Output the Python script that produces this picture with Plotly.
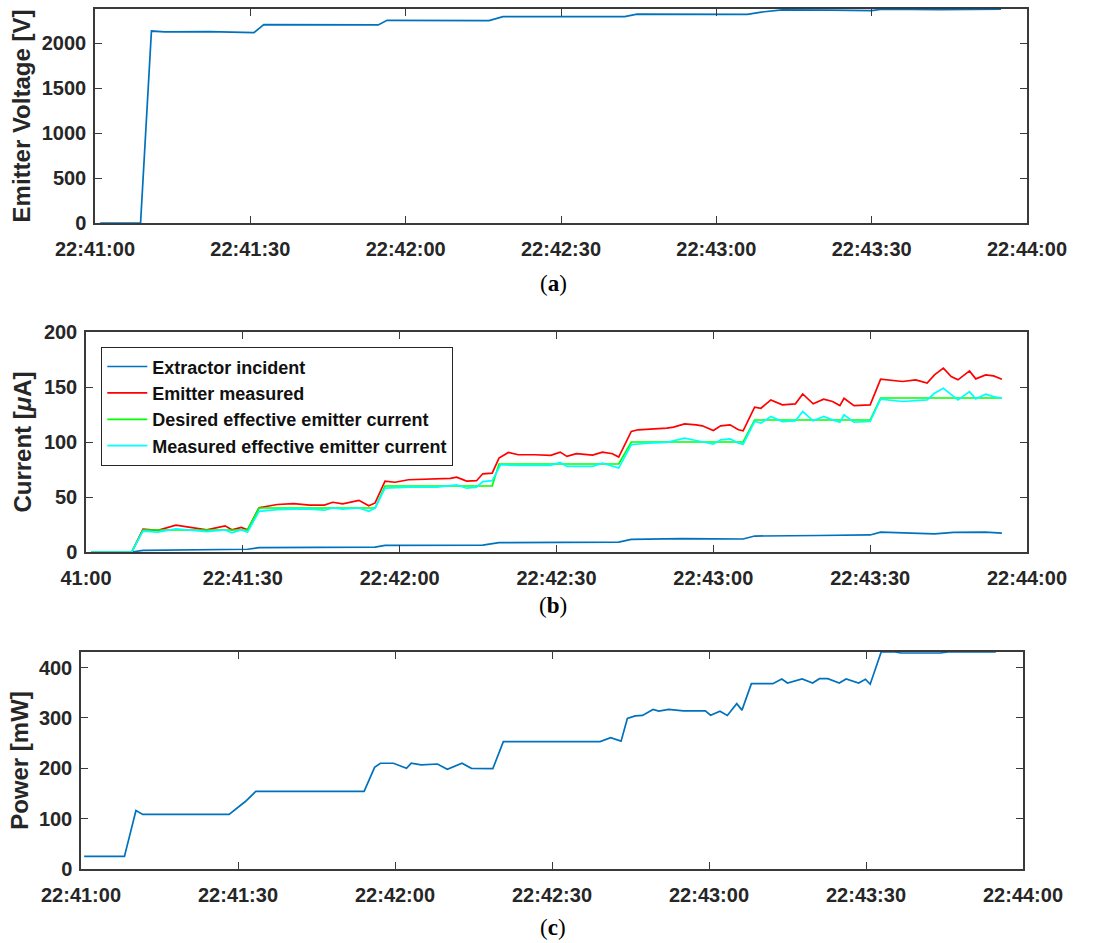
import pandas as pd
import plotly.graph_objects as go

BASE = pd.Timestamp("2000-01-01 22:41:00")

# ---------- data (seconds after 22:41:00) ----------
volt_t = [1, 8.8, 10.9, 13.5, 22, 30.7, 32.6, 45, 54.7, 56.4, 66, 76.1, 78.8, 92, 102.3,
          104.7, 115, 126, 128.7, 132.7, 142, 150, 152, 163, 175]
volt_v = [0, 0, 2135, 2125, 2128, 2118, 2207, 2205, 2203, 2254, 2252, 2250, 2295, 2297, 2295,
          2322, 2322, 2320, 2346, 2370, 2368, 2362, 2378, 2372, 2378]

emit_t = [1, 8.75, 10.9, 13.75, 17.2, 19.7, 23.1, 26.6, 27.9, 29.7, 30.9, 33.1, 36.6, 39.7, 42.8,
          45.6, 47.2, 49.1, 52.2, 54.1, 55.3, 57.2, 59.1, 61.7, 67.2, 69.7, 70.9, 72.8, 74.7, 75.9,
          77.7, 79.0, 80.8, 82.7, 85.8, 88.9, 90.7, 92.0, 93.8, 96.9, 98.8, 100.7, 101.9, 104.3,
          105.6, 108.7, 111.1, 112.4, 114.5, 116.7, 117.9, 120.0, 121.4, 123.2, 124.8, 125.7,
          127.9, 129.1, 131.0, 133.2, 135.7, 137.1, 139.1, 141.1, 142.8, 144.2, 145.0, 146.9,
          150.0, 152.0, 153.7, 156.2, 158.7, 160.9, 162.3, 164.0, 165.5, 166.8, 169.0, 170.2,
          172.1, 173.6, 175.2]
emit_v = [0, 0, 20.8, 19.6, 24.4, 22.6, 20.2, 23.8, 20.2, 22.3, 20.2, 40.2, 43.2, 44, 42.6,
          42.6, 45.2, 43.7, 47, 42, 44.6, 64.3, 63.4, 65.7, 66.3, 66.9, 68.1, 64.5, 64.8, 71.1,
          71.7, 85.4, 90.5, 88.4, 88.4, 87.8, 90.8, 86.9, 89.4, 88.1, 90.8, 89.3, 86.3, 109.6,
          111.1, 111.7, 112.6, 113.5, 116.5, 115.6, 114.7, 110.4, 114.7, 115.6, 111.1, 110.2,
          131.6, 130.7, 138.3, 133.8, 134.7, 143.7, 134.7, 138.9, 136.8, 133.1, 139.8, 133.1,
          133.8, 157.1, 156.5, 155, 156.5, 153.5, 161, 167.1, 159.5, 156.5, 164.6, 157.4,
          161, 160.1, 157.1]

desired_t = [1, 8.75, 10.9, 30.9, 33.1, 55.3, 57.2, 77.7, 79.0, 101.9, 104.3, 125.7, 127.9,
             150.0, 152.0, 175.2]
desired_v = [0, 0, 20, 20, 40, 40, 60, 60, 80, 80, 100, 100, 120, 120, 140, 140]

meas_t = [1, 8.75, 10.9, 13.75, 17.2, 19.7, 23.1, 26.6, 27.9, 29.7, 30.9, 33.1, 36.6, 39.7,
          42.8, 45.6, 47.2, 49.1, 52.2, 54.1, 55.3, 57.2, 59.1, 61.7, 67.2, 70.9, 72.8, 74.7,
          75.9, 77.7, 79.3, 82.7, 88.9, 90.7, 92.0, 96.9, 98.8, 101.9, 104.3, 107.4, 111.1,
          114.5, 116.7, 120.0, 121.4, 123.2, 124.8, 125.7, 127.9, 129.1, 131.0, 133.2, 135.7,
          137.1, 139.1, 141.1, 142.8, 144.2, 145.0, 146.9, 150.0, 152.0, 156.2, 160.9, 162.3,
          164.0, 166.8, 169.0, 170.2, 172.1, 173.6, 175.2]
meas_v = [0, 0, 19, 18, 21, 20, 18.5, 20, 17.5, 20, 18, 37, 38.5, 39, 39, 38, 40, 39, 40, 37,
          40, 58, 58.5, 59, 59, 61, 58, 59, 64, 64.8, 79.3, 78.7, 78.7, 81.4, 77.8, 77.8, 80.8,
          76.3, 97.5, 99, 99.6, 103.5, 101.4, 98, 102, 102.9, 99, 98, 118.6, 117.1, 123.2,
          118.6, 119.2, 127.7, 119.2, 123.2, 120.1, 118, 124.7, 118, 118.6, 138.9, 136.8,
          138.3, 144.3, 148.8, 138.3, 145.8, 139.2, 143.4, 141.3, 139.8]

extr_t = [1, 8.75, 10.9, 20, 30.9, 33.1, 45, 55.3, 57.2, 67, 75.9, 79.0, 90, 101.9, 104.3, 114,
          125.7, 127.9, 140, 150.0, 152.0, 158, 162.3, 166, 172, 175.2]
extr_v = [0, 0, 1.5, 2, 2.5, 4, 4.2, 4.5, 6, 6.2, 6.3, 8.5, 8.8, 9, 11.5, 12.2, 11.8, 14.5, 15,
          15.5, 18, 17.5, 16.5, 17.8, 18, 17.2]

pow_t = [0.6, 8.3, 10.5, 11.8, 28.3, 31.4, 33.4, 54.1, 56.1, 57.2, 59.7, 62.2, 63.1, 65, 68.1,
         70, 72.8, 74.6, 78.7, 80.7, 99.2, 101.2, 103.2, 104.4, 105.9, 107.3, 109.3, 110.4,
         112.3, 115.1, 119.3, 120.3, 122.1, 123.5, 125.3, 126.3, 128.1, 132.2, 133.9, 135,
         137.8, 139.8, 141.1, 142.7, 144.9, 146.2, 148.6, 149.9, 150.8, 152.9, 155.5, 156.7,
         164.2, 165.7, 174.8]
pow_v = [25, 25, 116, 108.5, 108.5, 134, 154, 154, 202, 210, 210, 200, 210, 207, 208.5, 198,
         210, 200, 199.5, 253, 253, 261, 254, 299, 304, 305, 317, 313.5, 317, 314, 314, 305.5,
         313.5, 305, 328.5, 315.5, 368, 368, 377.5, 369.5, 377.5, 369.5, 378, 378, 369.5,
         377.5, 369.5, 377, 367, 431, 431, 429, 429, 431, 431]

tick_secs = [0, 30, 60, 90, 120, 150, 180]
tick_labels = ["22:41:00", "22:41:30", "22:42:00", "22:42:30", "22:43:00", "22:43:30", "22:44:00"]
tick_labels_b = ["41:00", "22:41:30", "22:42:00", "22:42:30", "22:43:00", "22:43:30", "22:44:00"]


def ts(secs):
    return BASE + pd.to_timedelta(secs, unit="s")


BLUE = "#0072BD"
AXC = "#3a3a3a"
FONT = "Liberation Sans"
W = 1.7

fig = go.Figure()
fig.add_trace(go.Scatter(x=ts(volt_t), y=volt_v, mode="lines", line=dict(color=BLUE, width=W),
                         xaxis="x", yaxis="y", showlegend=False))
fig.add_trace(go.Scatter(x=ts(extr_t), y=extr_v, mode="lines", line=dict(color=BLUE, width=W),
                         name="Extractor incident", xaxis="x2", yaxis="y2"))
fig.add_trace(go.Scatter(x=ts(emit_t), y=emit_v, mode="lines", line=dict(color="#FF0000", width=W),
                         name="Emitter measured", xaxis="x2", yaxis="y2"))
fig.add_trace(go.Scatter(x=ts(desired_t), y=desired_v, mode="lines", line=dict(color="#00FF00", width=W),
                         name="Desired effective emitter current", xaxis="x2", yaxis="y2"))
fig.add_trace(go.Scatter(x=ts(meas_t), y=meas_v, mode="lines", line=dict(color="#00FFFF", width=W),
                         name="Measured effective emitter current", xaxis="x2", yaxis="y2"))
fig.add_trace(go.Scatter(x=ts(pow_t), y=pow_v, mode="lines", line=dict(color=BLUE, width=W),
                         xaxis="x3", yaxis="y3", showlegend=False))

tickfont = dict(family=FONT, size=20, color="#262626", weight="bold")
titlefont = dict(family=FONT, size=24, color="#262626", weight="bold")

W_FIG, H_FIG = 1103, 943


def xdom(l, r):
    return [l / W_FIG, r / W_FIG]


def ydom(top, bottom):
    return [1 - bottom / H_FIG, 1 - top / H_FIG]


common_x = dict(type="date", range=[ts(0), ts(180)], showgrid=False, zeroline=False,
                showline=True, linecolor=AXC, linewidth=1.5, mirror="allticks",
                ticks="inside", ticklen=7, tickwidth=1.3, tickcolor=AXC,
                tickvals=list(ts(tick_secs)), tickfont=tickfont, automargin=False,
                ticklabelstandoff=7)
common_y = dict(showgrid=False, zeroline=False, showline=True, linecolor=AXC, linewidth=1.5,
                mirror="allticks", ticks="inside", ticklen=7, tickwidth=1.3, tickcolor=AXC,
                tickfont=tickfont, automargin=False, ticklabelstandoff=3)

fig.update_layout(
    width=W_FIG, height=H_FIG,
    margin=dict(l=0, r=0, t=0, b=0),
    paper_bgcolor="white", plot_bgcolor="white",
    xaxis=dict(common_x, domain=xdom(95, 1027), anchor="y", ticktext=tick_labels),
    yaxis=dict(common_y, domain=ydom(9, 223), anchor="x", range=[0, 2380],
               tickvals=[0, 500, 1000, 1500, 2000],
               title=dict(text="Emitter Voltage [V]", font=titlefont, standoff=4)),
    xaxis2=dict(common_x, domain=xdom(86, 1027), anchor="y2", ticktext=tick_labels_b),
    yaxis2=dict(common_y, domain=ydom(332, 552), anchor="x2", range=[0, 200],
                tickvals=[0, 50, 100, 150, 200],
                title=dict(text="Current [<i>μ</i>A]", font=titlefont, standoff=5)),
    xaxis3=dict(common_x, domain=xdom(81, 1023), anchor="y3", ticktext=tick_labels),
    yaxis3=dict(common_y, domain=ydom(652, 869), anchor="x3", range=[0, 431],
                tickvals=[0, 100, 200, 300, 400],
                title=dict(text="Power [mW]", font=titlefont, standoff=3)),
    legend=dict(x=101 / W_FIG, y=1 - 347 / H_FIG, xanchor="left", yanchor="top",
                bgcolor="white", bordercolor="#262626", borderwidth=1.3,
                font=dict(family=FONT, size=18, color="#111111", weight="bold"),
                tracegroupgap=0, itemwidth=40),
)

cap_font = dict(family="Liberation Serif", size=23, color="black")
for label, ypix in [("a", 283), ("b", 605), ("c", 927)]:
    fig.add_annotation(text=f"(<b>{label}</b>)", x=553 / W_FIG, y=1 - ypix / H_FIG,
                       xref="paper", yref="paper", showarrow=False, font=cap_font,
                       xanchor="center", yanchor="middle")

# remove the default 8 px page margin so the figure fills the window exactly
fig.write_html("out.html", config={"displayModeBar": False},
               post_script="document.body.style.margin='0px';")
